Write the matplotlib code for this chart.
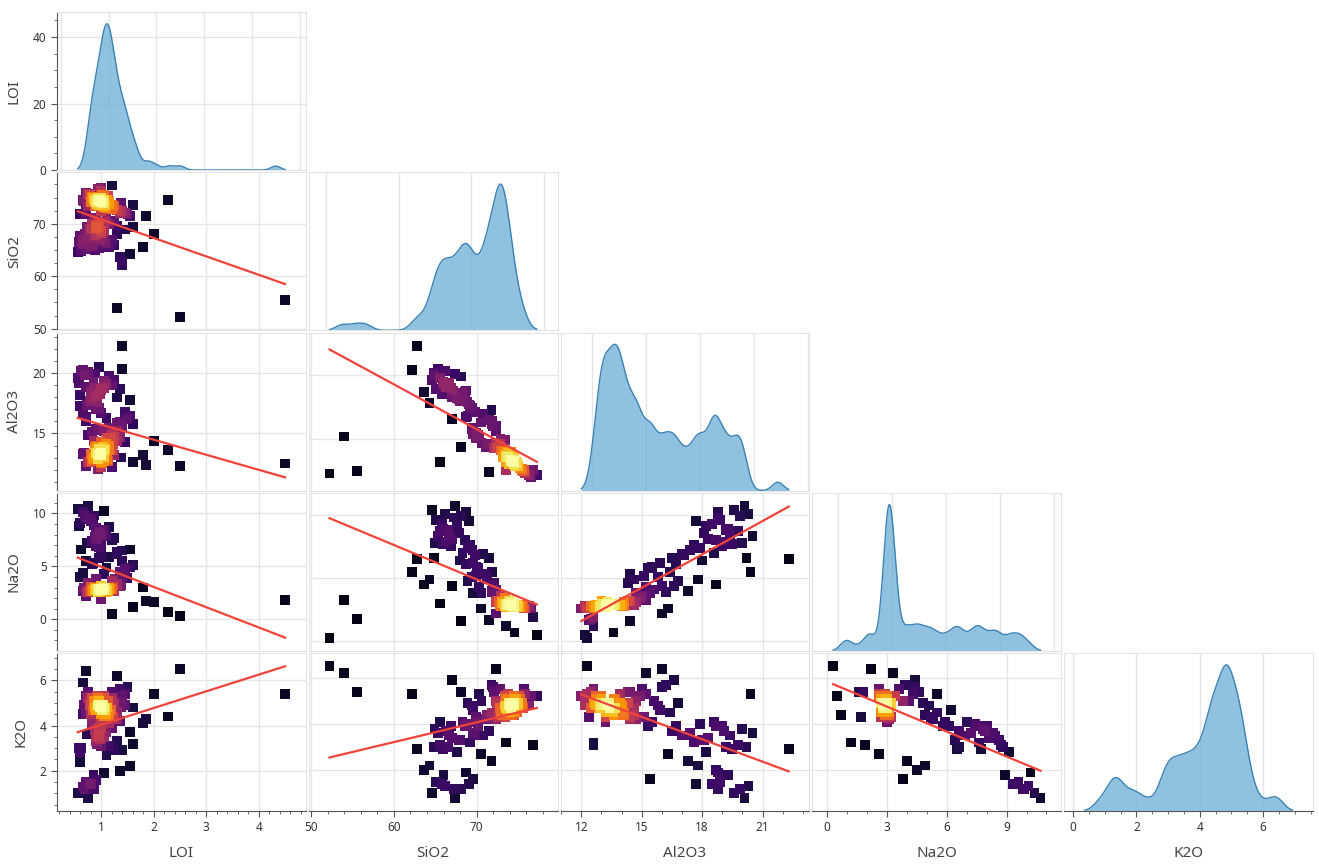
import numpy as np
import matplotlib.pyplot as plt
from matplotlib.ticker import MultipleLocator

plt.rcParams['font.family'] = ['Noto Sans', 'DejaVu Sans']

# Whole-rock analyses, one entry per sample (wt%)
# main granite group / high Al-Na group / transitional group / scattered samples
loi = [1.00, 0.93, 1.08, 0.85, 1.15, 0.97, 1.03, 0.82, 1.23, 0.90,
       1.11, 0.96, 0.78, 1.30, 1.00, 0.88, 1.06, 0.70, 1.18, 0.94,
       1.05, 0.99, 0.81, 1.12, 1.35, 0.91, 1.02, 0.67, 1.24, 0.87,
       1.09, 0.75, 1.38, 0.93, 1.14, 1.00, 0.84, 1.20, 0.64, 1.05,
       0.55, 0.65, 0.70, 0.75, 0.80, 0.68, 0.85, 0.90, 0.95, 1.00,
       1.05, 0.88, 0.92, 1.10, 0.98, 0.82, 1.15, 0.72, 1.20, 1.00,
       0.60, 0.62, 0.95, 1.25, 1.30, 0.78, 0.86, 0.58,
       1.10, 1.20, 0.95, 1.40, 1.30, 1.50, 0.85, 1.05, 1.55, 1.45,
       0.75, 1.15, 1.35, 0.90, 1.60, 1.25, 0.70, 1.00, 1.45, 0.82,
       1.30, 2.50, 4.50, 2.27, 2.00, 1.80, 1.85, 1.35, 1.40, 1.40,
       1.20, 1.00, 0.70, 0.90, 1.10, 0.60, 1.60, 0.65, 1.55, 1.05]

sio2 = [74.1, 74.5, 73.5, 74.8, 73.8, 74.3, 73.9, 75.2, 73.1, 74.2,
        74.6, 73.6, 75.5, 72.7, 74.9, 73.4, 74.5, 75.9, 72.8, 75.0,
        73.2, 76.3, 74.1, 75.3, 72.4, 73.8, 75.6, 74.3, 73.5, 74.6,
        72.9, 75.7, 73.9, 76.6, 74.2, 72.5, 75.0, 73.6, 74.5, 75.5,
        64.6, 66.2, 65.1, 67.4, 65.8, 68.1, 66.0, 67.9, 65.3, 68.6,
        66.7, 64.9, 69.2, 66.3, 67.0, 68.9, 65.6, 69.5, 66.9, 68.3,
        67.6, 64.8, 69.8, 65.9, 68.0, 69.1, 67.2, 66.5,
        71.3, 72.9, 70.2, 72.4, 69.6, 71.8, 71.1, 70.3, 71.5, 68.9,
        73.4, 70.0, 72.0, 70.8, 69.4, 70.6, 71.9, 68.7, 72.1, 69.9,
        54.0, 52.2, 55.5, 74.6, 68.1, 65.6, 71.5, 63.6, 62.8, 62.2,
        77.3, 76.8, 72.4, 69.6, 70.5, 71.8, 73.6, 67.0, 64.3, 68.7]

al2o3 = [13.4, 13.2, 13.7, 13.0, 13.6, 13.3, 13.9, 12.7, 14.1, 13.4,
         12.9, 13.7, 12.6, 14.4, 13.2, 14.0, 13.0, 12.3, 14.6, 12.9,
         13.6, 12.2, 13.3, 12.7, 14.7, 13.9, 12.5, 13.4, 13.2, 13.7,
         14.1, 12.6, 13.0, 12.0, 14.0, 14.3, 12.9, 13.6, 13.3, 12.7,
         19.6, 20.3, 18.9, 20.1, 18.5, 19.9, 19.3, 18.1, 20.5, 18.7,
         19.4, 20.0, 17.6, 19.1, 18.3, 17.9, 19.8, 17.4, 19.0, 18.6,
         18.2, 20.2, 17.1, 19.5, 18.0, 17.7, 18.8, 19.2,
         14.6, 15.0, 15.3, 15.6, 15.9, 16.2, 14.4, 15.2, 16.5, 16.8,
         14.9, 15.5, 16.0, 17.0, 15.8, 14.7, 16.4, 16.7, 14.3, 15.1,
         15.2, 12.3, 12.5, 13.6, 14.4, 13.2, 12.4, 18.7, 22.3, 20.4,
         12.2, 12.6, 16.0, 15.4, 16.3, 17.3, 12.6, 16.6, 17.8, 18.8]

na2o = [2.9, 2.8, 3.0, 2.7, 3.0, 2.8, 2.9, 2.7, 3.1, 2.9,
        2.8, 2.9, 2.7, 3.2, 2.9, 2.8, 3.0, 2.6, 2.9, 2.7,
        3.0, 2.8, 3.1, 2.7, 3.1, 2.9, 2.8, 3.0, 2.7, 3.0,
        2.8, 2.6, 3.2, 2.6, 2.9, 3.2, 2.8, 2.9, 2.7, 2.9,
        10.4, 10.1, 9.6, 10.7, 9.3, 9.9, 8.9, 8.6, 8.3, 8.0,
        8.4, 7.8, 7.6, 7.9, 8.1, 7.4, 8.7, 7.2, 7.5, 7.0,
        9.1, 6.6, 6.8, 7.7, 6.4, 9.5, 9.8, 8.8,
        4.9, 3.6, 5.8, 4.1, 6.2, 3.9, 5.3, 4.3, 6.6, 4.8,
        3.4, 5.9, 4.4, 6.9, 5.1, 3.8, 5.5, 6.1, 4.6, 5.2,
        3.3, 0.3, 1.8, 0.7, 1.6, 3.0, 1.7, 4.5, 6.5, 5.5,
        0.5, 1.9, 2.2, 3.8, 2.6, 4.0, 1.2, 4.4, 4.9, 10.2]

k2o = [4.8, 4.9, 4.7, 5.1, 4.5, 4.8, 4.9, 5.2, 4.4, 4.7,
       4.8, 5.1, 4.9, 4.3, 4.5, 4.8, 5.2, 5.3, 4.7, 4.9,
       4.4, 4.8, 4.5, 5.1, 4.2, 5.3, 4.7, 4.9, 4.3, 5.1,
       4.5, 5.5, 4.8, 5.2, 4.4, 4.9, 4.7, 5.1, 4.5, 4.8,
       1.0, 1.3, 1.5, 0.8, 1.4, 1.2, 1.8, 3.3, 3.6, 3.9,
       3.5, 3.8, 3.2, 3.7, 3.4, 4.0, 3.1, 3.6, 3.9, 4.1,
       2.8, 3.0, 3.5, 2.9, 3.3, 1.4, 1.2, 3.0,
       4.4, 5.5, 3.9, 5.0, 4.6, 5.7, 4.2, 5.3, 3.7, 4.9,
       5.2, 4.1, 5.6, 3.5, 4.8, 5.0, 4.5, 3.9, 5.4, 4.3,
       6.2, 6.5, 5.4, 4.4, 5.4, 4.1, 4.3, 2.0, 2.9, 5.3,
       5.2, 3.1, 6.4, 1.6, 2.7, 2.4, 3.2, 5.9, 2.2, 1.9]

names = ['LOI', 'SiO2', 'Al2O3', 'Na2O', 'K2O']
data = {'LOI': np.array(loi), 'SiO2': np.array(sio2), 'Al2O3': np.array(al2o3),
        'Na2O': np.array(na2o), 'K2O': np.array(k2o)}

# peak height of the LOI density curve on the top-left axis
loi_peak = 44

# tick spacing per variable (major, minor)
x_ticks = {'LOI': (1, 0.2), 'SiO2': (10, 2), 'Al2O3': (3, 1), 'Na2O': (3, 1), 'K2O': (2, 0.5)}
y_ticks = {'LOI': (20, 5), 'SiO2': (10, 2.5), 'Al2O3': (5, 1), 'Na2O': (5, 1), 'K2O': (2, 0.5)}
# bandwidth factor (relative to Scott) for the diagonal curves
bw_factor = {'LOI': 0.5, 'SiO2': 0.45, 'Al2O3': 0.28, 'Na2O': 0.25, 'K2O': 0.4}


def kde_curve(v, factor):
    bw = factor * 1.06 * v.std() * len(v) ** -0.2
    grid = np.linspace(v.min() - 2 * bw, v.max() + 2 * bw, 500)
    z = (grid[:, None] - v[None, :]) / bw
    dens = np.exp(-0.5 * z ** 2).sum(1) / (len(v) * bw * np.sqrt(2 * np.pi))
    return grid, dens


def point_density(x, y, f=0.22):
    xs = (x - x.mean()) / x.std()
    ys = (y - y.mean()) / y.std()
    d2 = (xs[:, None] - xs[None, :]) ** 2 + (ys[:, None] - ys[None, :]) ** 2
    return np.exp(-0.5 * d2 / f ** 2).sum(1)


curves = {n: kde_curve(data[n], bw_factor[n]) for n in names}
scale = loi_peak / curves['LOI'][1].max()

fig = plt.figure(figsize=(13.19, 8.65), dpi=100)
gs = fig.add_gridspec(5, 5, left=0.0432, right=0.9955, top=0.986, bottom=0.0624,
                      wspace=0.012, hspace=0.015)

axis_col = '#555555'
for i, yv in enumerate(names):
    for j, xv in enumerate(names[:i + 1]):
        ax = fig.add_subplot(gs[i, j])
        ax.set_axisbelow(True)
        if i == j:
            grid, dens = curves[xv]
            ax.fill_between(grid, dens * scale, color='#6baed6', alpha=0.75, lw=0)
            ax.plot(grid, dens * scale, color='#3a82b5', lw=1)
            ax.margins(x=0.1)
            ax.set_ylim(0, dens.max() * scale * 1.08)
            ax.yaxis.set_major_locator(MultipleLocator(y_ticks['LOI'][0]))
            ax.yaxis.set_minor_locator(MultipleLocator(y_ticks['LOI'][1]))
        else:
            x, y = data[xv], data[yv]
            d = point_density(x, y)
            c = d / d.max()
            o = np.argsort(c)
            ax.scatter(x[o], y[o], c=c[o], cmap='inferno', vmin=0, vmax=1,
                       marker='s', s=50, linewidths=0)
            k, b = np.polyfit(x, y, 1)
            xx = np.array([x.min(), x.max()])
            ax.plot(xx, k * xx + b, color='#f0433a', lw=1.6)
            ax.margins(0.1)
            ax.yaxis.set_major_locator(MultipleLocator(y_ticks[yv][0]))
            ax.yaxis.set_minor_locator(MultipleLocator(y_ticks[yv][1]))
        ax.xaxis.set_major_locator(MultipleLocator(x_ticks[xv][0]))
        ax.xaxis.set_minor_locator(MultipleLocator(x_ticks[xv][1]))
        ax.grid(True, which='major', color='#e6e6e6', lw=1)

        for sp in ax.spines.values():
            sp.set_color('#e4e4e4')
        ax.tick_params(which='both', length=0, labelleft=False, labelbottom=False)
        if j == 0:
            ax.spines['left'].set_color(axis_col)
            ax.tick_params(axis='y', which='major', length=4, color=axis_col,
                           labelleft=True, labelsize=8.5, labelcolor='#333333')
            ax.tick_params(axis='y', which='minor', length=2.5, color=axis_col)
            ax.set_ylabel(yv, fontsize=11, color='#444444', labelpad=8)
        if i == 4:
            ax.spines['bottom'].set_color(axis_col)
            ax.tick_params(axis='x', which='major', length=4, color=axis_col,
                           labelbottom=True, labelsize=8.5, labelcolor='#333333')
            ax.tick_params(axis='x', which='minor', length=2.5, color=axis_col)
            ax.set_xlabel(xv, fontsize=11, color='#444444', labelpad=8)

fig.savefig('out.png', dpi=100)
